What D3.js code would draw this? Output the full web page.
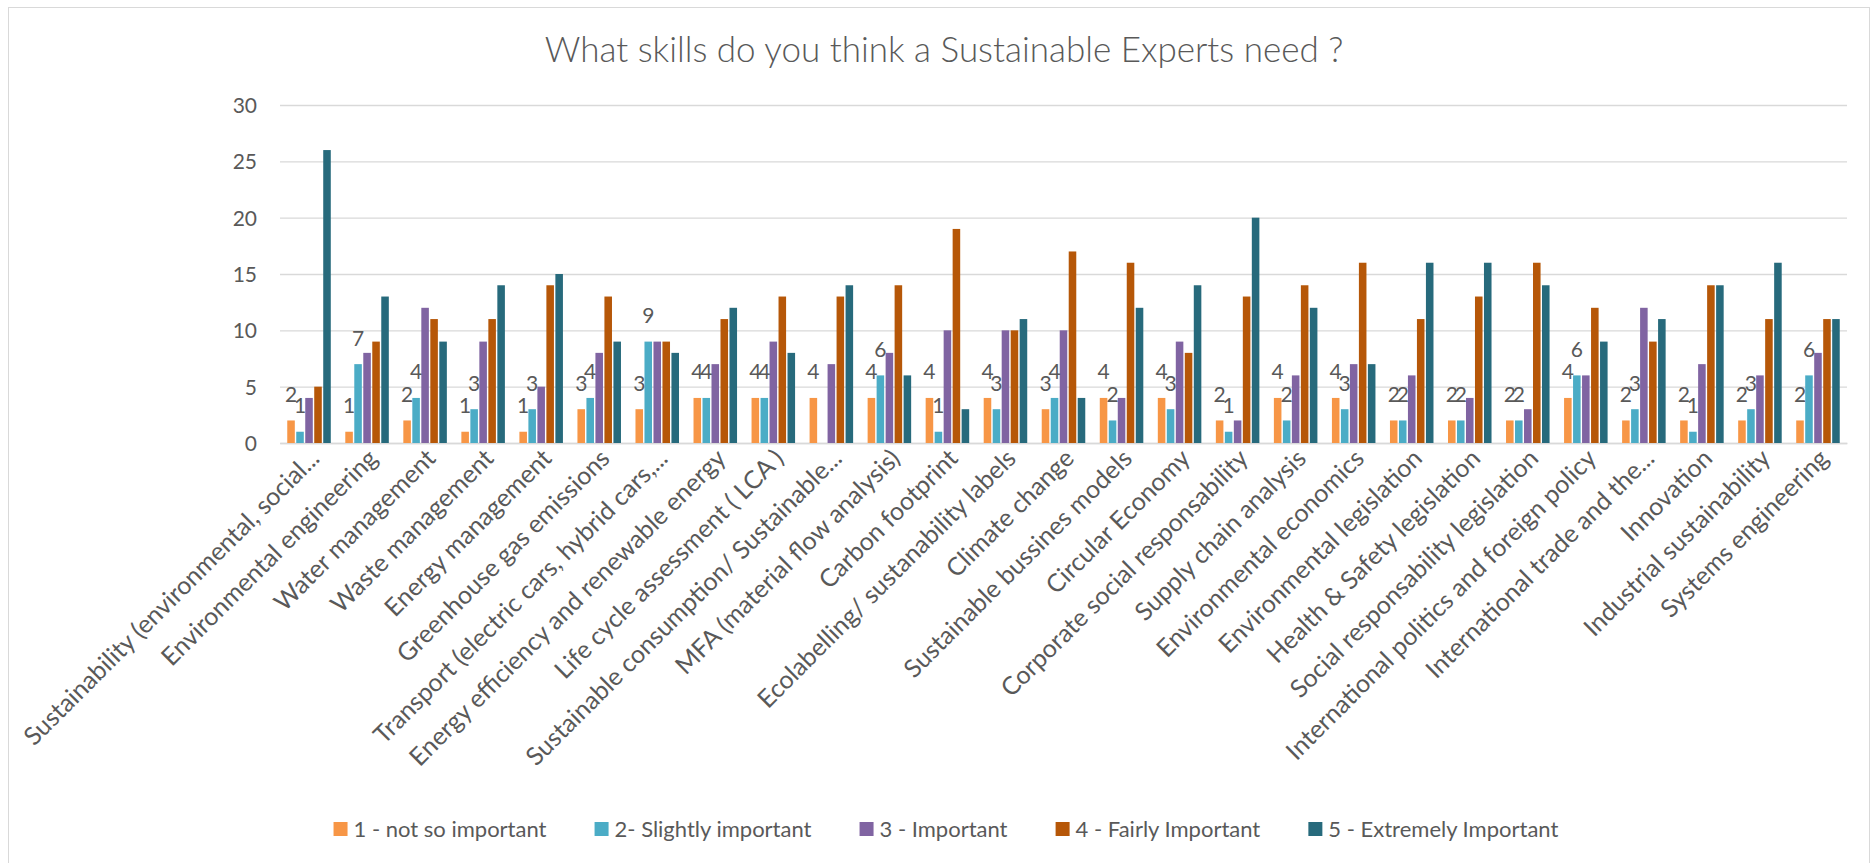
<!DOCTYPE html>
<html>
<head>
<meta charset="utf-8">
<script src="https://cdn.jsdelivr.net/npm/d3@7"></script>
<style>
  html, body { margin: 0; padding: 0; background: #ffffff; }
  svg { display: block; }
  text { font-family: Lato, "Open Sans", sans-serif; fill: #595959; }
</style>
</head>
<body>
<svg id="chart" width="1874" height="863"></svg>
<script>
// Survey: importance of each skill for a sustainability expert
const categories = [
  "Sustainability (environmental, social...",
  "Environmental engineering",
  "Water management",
  "Waste management",
  "Energy management",
  "Greenhouse gas emissions",
  "Transport (electric cars, hybrid cars,...",
  "Energy efficiency and renewable energy",
  "Life cycle assessment ( LCA )",
  "Sustainable consumption/ Sustainable...",
  "MFA (material flow analysis)",
  "Carbon footprint",
  "Ecolabelling/ sustanability labels",
  "Climate change",
  "Sustainable bussines models",
  "Circular Economy",
  "Corporate social responsability",
  "Supply chain analysis",
  "Environmental economics",
  "Environmental legislation",
  "Health & Safety legislation",
  "Social responsability legislation",
  "International politics and foreign policy",
  "International trade and the...",
  "Innovation",
  "Industrial sustainability",
  "Systems engineering"
];

const seriesNames = [
  "1 - not so important",
  "2- Slightly important",
  "3 - Important",
  "4 - Fairly Important",
  "5 - Extremely Important"
];

const notSoImportant     = [2,1,2,1,1,3,3,4,4,4,4,4,4,3,4,4,2,4,4,2,2,2,4,2,2,2,2];
const slightlyImportant  = [1,7,4,3,3,4,9,4,4,null,6,1,3,4,2,3,1,2,3,2,2,2,6,3,1,3,6];
const important          = [4,8,12,9,5,8,9,7,9,7,8,10,10,10,4,9,2,6,7,6,4,3,6,12,7,6,8];
const fairlyImportant    = [5,9,11,11,14,13,9,11,13,13,14,19,10,17,16,8,13,14,16,11,13,16,12,9,14,11,11];
const extremelyImportant = [26,13,9,14,15,9,8,12,8,14,6,3,11,4,12,14,20,12,7,16,16,14,9,11,14,16,11];

const yTicks = [0, 5, 10, 15, 20, 25, 30];

const seriesColors = ["#F79646", "#4BACC6", "#8064A2", "#B65708", "#276A7C"];
// only the first two series carry value labels
const labelledSeries = [0, 1];

const seriesValues = [notSoImportant, slightlyImportant, important, fairlyImportant, extremelyImportant];

const svg = d3.select("#chart");
const plot = { left: 280, right: 1847, top: 105, bottom: 443 };

// chart frame
svg.append("rect")
  .attr("x", 8.5).attr("y", 7.5)
  .attr("width", 1861).attr("height", 856)
  .attr("fill", "#ffffff")
  .attr("stroke", "#D9D9D9").attr("stroke-width", 1);

// title
svg.append("text")
  .attr("x", 944).attr("y", 62)
  .attr("text-anchor", "middle")
  .style("font-size", "35px")
  .style("font-weight", 300)
  .text("What skills do you think a Sustainable Experts need ?");

const y = d3.scaleLinear().domain([0, 30]).range([plot.bottom, plot.top]);
const x0 = d3.scaleBand().domain(categories)
  .range([plot.left, plot.right]).paddingInner(0.25).paddingOuter(0.125);
const x1 = d3.scaleBand().domain(d3.range(seriesNames.length))
  .range([0, x0.bandwidth()]).paddingInner(0.16);

// horizontal gridlines + y tick labels
const yAxis = d3.axisLeft(y).tickValues(yTicks)
  .tickSize(-(plot.right - plot.left)).tickPadding(23).tickFormat(d3.format("d"));
const gy = svg.append("g").attr("transform", `translate(${plot.left},0)`).call(yAxis);
gy.select(".domain").remove();
gy.selectAll(".tick line").attr("stroke", "#D9D9D9").attr("stroke-width", 1.4);
gy.selectAll(".tick text").style("font-size", "21px").attr("fill", "#595959")
  .attr("dy", "0.36em");

// category axis
const xAxis = d3.axisBottom(x0).tickSize(0).tickPadding(0);
const gx = svg.append("g").attr("transform", `translate(0,${plot.bottom})`).call(xAxis);
gx.select(".domain").attr("stroke", "#D9D9D9").attr("stroke-width", 1.4);
gx.selectAll(".tick text")
  .style("font-size", "25px")
  .attr("fill", "#595959")
  .attr("text-anchor", "end")
  .attr("dy", 0).attr("y", 0).attr("x", 0)
  .attr("transform", "translate(12,17) rotate(-45)");

// bars
const rows = categories.map((c, i) => ({
  category: c,
  values: seriesValues.map((arr, s) => ({ s, v: arr[i] }))
}));

const groups = svg.append("g").selectAll("g").data(rows).join("g")
  .attr("transform", d => `translate(${x0(d.category)},0)`);

groups.selectAll("rect")
  .data(d => d.values.filter(e => e.v != null))
  .join("rect")
  .attr("x", e => x1(e.s))
  .attr("width", x1.bandwidth())
  .attr("y", e => y(e.v))
  .attr("height", e => y(0) - y(e.v))
  .attr("fill", e => seriesColors[e.s]);

// value labels
groups.selectAll("text.val")
  .data(d => d.values.filter(e => labelledSeries.includes(e.s) && e.v != null))
  .join("text")
  .attr("class", "val")
  .attr("x", e => x1(e.s) + x1.bandwidth() / 2)
  .attr("y", e => y(e.v) - 18.5)
  .attr("text-anchor", "middle")
  .style("font-size", "21px")
  .attr("fill", "#404040")
  .text(e => e.v);

// legend
const legend = svg.append("g");
const items = legend.selectAll("g").data(seriesNames).join("g");
items.append("rect").attr("width", 14).attr("height", 14).attr("y", -7)
  .attr("fill", (d, i) => seriesColors[i]);
items.append("text").attr("x", 20).attr("dy", "0.36em")
  .style("font-size", "22px").text(d => d);
let cursor = 0;
const gap = 48;
items.each(function () {
  const w = this.getBBox().width;
  d3.select(this).attr("transform", `translate(${cursor},0)`);
  cursor += w + gap;
});
const total = cursor - gap;
legend.attr("transform", `translate(${946 - total / 2},829)`);
</script>
</body>
</html>
